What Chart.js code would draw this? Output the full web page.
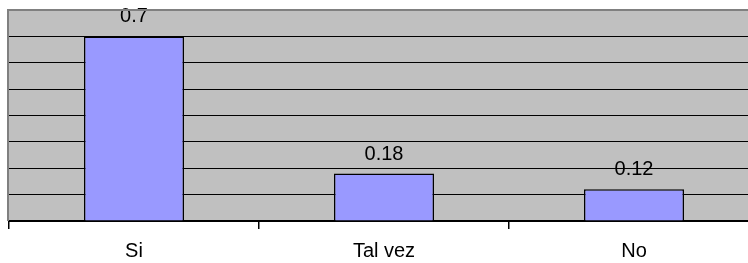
<!DOCTYPE html>
<html>
<head>
<meta charset="utf-8">
<script src="https://cdn.jsdelivr.net/npm/chart.js@4/dist/chart.umd.min.js"></script>
<style>
  html, body { margin: 0; padding: 0; background: #fff; overflow: hidden; }
  #wrap { width: 760px; height: 263px; }
</style>
</head>
<body>
<div id="wrap"><canvas id="chart" width="760" height="263"></canvas></div>
<script>
// datos
const categorias = ['Si', 'Tal vez', 'No'];
const valores = [0.7, 0.18, 0.12];
const yMax = 0.8;
const yPaso = 0.1;

const fuente = '"Liberation Sans", Arial, sans-serif';

// fondo gris del area del grafico + borde superior/izquierdo
const fondoPlot = {
    id: 'fondoPlot',
    beforeDraw(chart) {
        const { ctx, chartArea: a } = chart;
        ctx.save();
        ctx.fillStyle = '#c0c0c0';
        ctx.fillRect(a.left, a.top, a.right - a.left, a.bottom - a.top);
        ctx.restore();
    },
    afterDraw(chart) {
        const { ctx, chartArea: a } = chart;
        ctx.save();
        ctx.strokeStyle = '#808080';
        ctx.lineWidth = 2;
        ctx.beginPath();
        ctx.moveTo(a.left - 1, a.bottom);
        ctx.lineTo(a.left - 1, a.top);
        ctx.lineTo(a.right, a.top);
        ctx.stroke();
        ctx.restore();
    }
};

// etiquetas de valor encima de cada barra
const etiquetas = {
    id: 'etiquetas',
    afterDatasetsDraw(chart) {
        const { ctx } = chart;
        const meta = chart.getDatasetMeta(0);
        ctx.save();
        ctx.font = '20px ' + fuente;
        ctx.fillStyle = '#000';
        ctx.textAlign = 'center';
        ctx.textBaseline = 'alphabetic';
        meta.data.forEach((bar, i) => {
            ctx.fillText(String(valores[i]), bar.x, bar.y - 14);
        });
        ctx.restore();
    }
};

const ctx = document.getElementById('chart').getContext('2d');
new Chart(ctx, {
    type: 'bar',
    data: {
        labels: categorias,
        datasets: [{
            data: valores,
            backgroundColor: '#9999ff',
            borderColor: '#000000',
            borderWidth: 1.5,
            barPercentage: 0.4,
            categoryPercentage: 1.0
        }]
    },
    options: {
        responsive: false,
        animation: false,
        layout: { padding: { top: 10, right: 1, left: 0, bottom: 0 } },
        plugins: {
            legend: { display: false },
            tooltip: { enabled: false }
        },
        scales: {
            x: {
                grid: {
                    offset: true,
                    drawOnChartArea: false,
                    color: '#000',
                    tickLength: 8,
                    lineWidth: 1.5
                },
                border: { color: '#000', width: 2 },
                ticks: {
                    color: '#000',
                    padding: 10,
                    font: { family: fuente, size: 20 }
                },
                afterFit(scale) { scale.height = 42; }
            },
            y: {
                min: 0,
                max: yMax,
                ticks: { display: false, stepSize: yPaso },
                grid: {
                    drawTicks: false,
                    color: '#000',
                    lineWidth: 1
                },
                border: { display: false },
                afterFit(scale) { scale.width = 9; }
            }
        }
    },
    plugins: [fondoPlot, etiquetas]
});
</script>
</body>
</html>
